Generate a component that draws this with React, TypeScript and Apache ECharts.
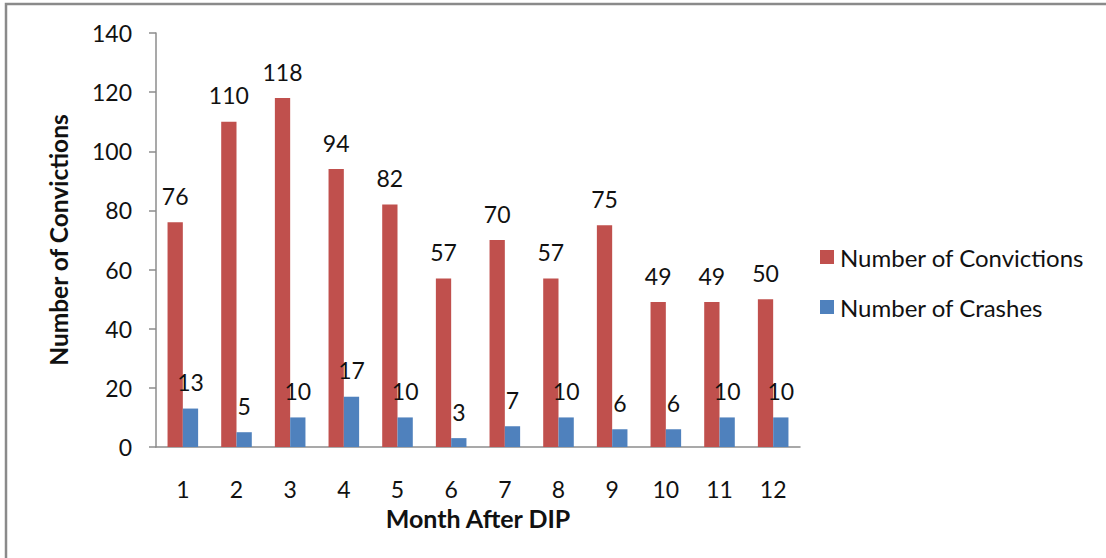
import React, { useEffect, useRef } from "react";
import * as echarts from "echarts";

const months = ["1", "2", "3", "4", "5", "6", "7", "8", "9", "10", "11", "12"];
const convictions = [76, 110, 118, 94, 82, 57, 70, 57, 75, 49, 49, 50];
const crashes = [13, 5, 10, 17, 10, 3, 7, 10, 6, 6, 10, 10];
const seriesNames = ["Number of Convictions", "Number of Crashes"];
const xTitle = "Month After DIP";
const yTitle = "Number of Convictions";

const FONT = "Lato";
const TEXT = "#111111";

export default function App() {
  const ref = useRef<HTMLDivElement>(null);
  useEffect(() => {
    if (!ref.current) return;
    const chart = echarts.init(ref.current, null, { renderer: "svg" });
    const label = {
      show: true,
      position: "top" as const,
      distance: 15,
      fontFamily: FONT,
      fontSize: 23,
      color: TEXT,
    };
    chart.setOption({
      animation: false,
      backgroundColor: "#ffffff",
      textStyle: { fontFamily: FONT },
      graphic: [
        {
          type: "rect",
          shape: { x: 6, y: 4, width: 1300, height: 800 },
          style: { fill: "none", stroke: "#8a8a8a", lineWidth: 2.5 },
          silent: true,
        },
      ],
      grid: { left: 156, right: 306, top: 33, bottom: 111, containLabel: false },
      legend: {
        orient: "vertical",
        left: 815,
        top: 240,
        itemWidth: 14,
        itemHeight: 14,
        itemGap: 26,
        icon: "rect",
        textStyle: { fontFamily: FONT, fontSize: 24, color: TEXT, padding: [0, 0, 0, 1] },
        data: seriesNames,
      },
      xAxis: {
        type: "category",
        data: months,
        name: xTitle,
        nameLocation: "middle",
        nameGap: 58,
        nameTextStyle: { fontFamily: FONT, fontSize: 25, fontWeight: "bold", color: TEXT },
        axisLine: { show: true, lineStyle: { color: "#8c8c8c", width: 1.5 } },
        axisTick: { show: false },
        axisLabel: { margin: 30, fontFamily: FONT, fontSize: 23, color: TEXT },
        splitLine: { show: false },
      },
      yAxis: {
        type: "value",
        min: 0,
        max: 140,
        interval: 20,
        name: yTitle,
        nameLocation: "middle",
        nameGap: 85,
        nameTextStyle: { fontFamily: FONT, fontSize: 24.5, fontWeight: "bold", color: TEXT },
        axisLine: { show: true, lineStyle: { color: "#8c8c8c", width: 1.5 } },
        axisTick: { show: true, length: 7, lineStyle: { color: "#8c8c8c", width: 1.5 } },
        axisLabel: { margin: 24, fontFamily: FONT, fontSize: 23, color: TEXT },
        splitLine: { show: false },
      },
      series: [
        {
          name: seriesNames[0],
          type: "bar",
          data: convictions,
          itemStyle: { color: "#C0504D" },
          barGap: "0%",
          barCategoryGap: "43%",
          label,
        },
        {
          name: seriesNames[1],
          type: "bar",
          data: crashes,
          itemStyle: { color: "#4F81BD" },
          barGap: "0%",
          barCategoryGap: "43%",
          label,
        },
      ],
    });
    return () => chart.dispose();
  }, []);
  return (
    <div
      ref={ref}
      style={{ position: "absolute", left: 0, top: 0, width: 1106, height: 558 }}
    />
  );
}
